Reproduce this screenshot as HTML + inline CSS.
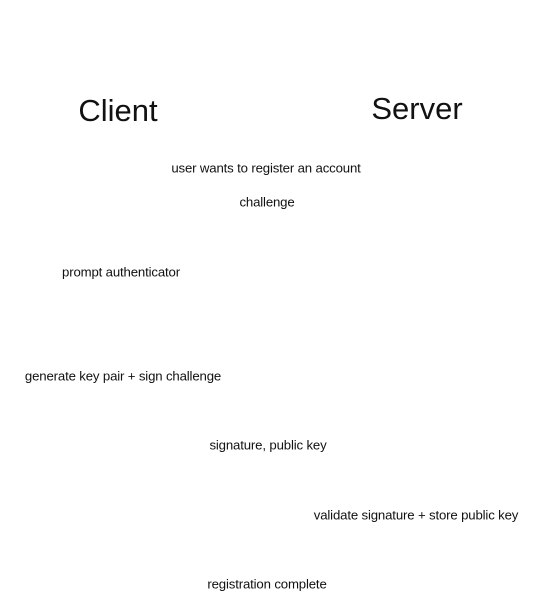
<!DOCTYPE html>
<html><head><meta charset="utf-8"><style>
body{margin:0;width:543px;height:602px;background:#fff;position:relative;overflow:hidden;font-family:"Liberation Sans",sans-serif;color:#111}
.t{position:absolute;transform:translate(-50%,-50%);white-space:nowrap;font-size:13.2px;letter-spacing:-0.15px}
.h{font-size:31px;letter-spacing:0}
</style></head><body>
<div class="t h" style="left:118px;top:111px">Client</div>
<div class="t h" style="left:417px;top:109px">Server</div>
<div class="t" style="left:266px;top:168px">user wants to register an account</div>
<div class="t" style="left:267px;top:202px">challenge</div>
<div class="t" style="left:121px;top:272px">prompt authenticator</div>
<div class="t" style="left:123px;top:376px">generate key pair + sign challenge</div>
<div class="t" style="left:268px;top:445px">signature, public key</div>
<div class="t" style="left:416px;top:515px">validate signature + store public key</div>
<div class="t" style="left:267px;top:584px">registration complete</div>
</body></html>
